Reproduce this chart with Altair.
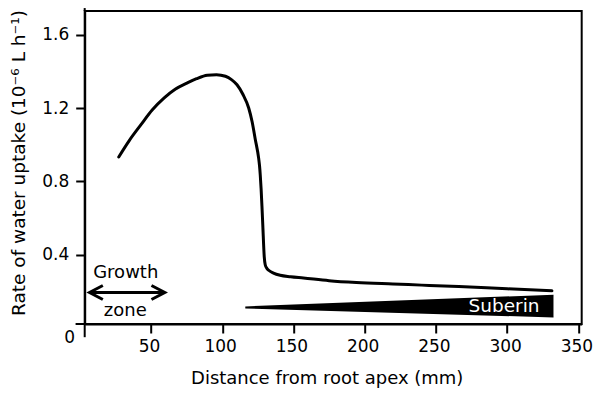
import altair as alt
import pandas as pd

# ---- data ----
dist = [27.4, 35, 43.0, 51, 59.3, 67, 75.6, 82, 89.5, 96, 102.3, 106.5, 110.4,
        114.5, 118.6, 121, 123.2, 125.6, 126.2, 126.7, 127.3, 127.9, 128.5,
        129.5, 130.2, 131.2, 132.6, 136, 140.7, 148, 157.0, 175, 194.2, 219.8,
        240, 266.0, 300, 331.4]
uptake = [0.933, 1.025, 1.109, 1.19, 1.255, 1.302, 1.337, 1.360, 1.379, 1.382,
          1.373, 1.355, 1.327, 1.275, 1.200, 1.125, 1.03, 0.925, 0.885, 0.836,
          0.76, 0.665, 0.56, 0.39, 0.345, 0.327, 0.315, 0.300, 0.288, 0.280,
          0.273, 0.258, 0.248, 0.240, 0.234, 0.226, 0.214, 0.203]

x_ticks = [50, 100, 150, 200, 250, 300, 350]
y_ticks = [0.4, 0.8, 1.2, 1.6]

suberin_x = [116.2, 332.5]
suberin_top = [0.118, 0.182]
suberin_bottom = [0.107, 0.058]

growth_x = [6.9, 59.7]
growth_y = [0.194, 0.194]

labels_text = ["Growth", "zone"]
labels_x = [32.3, 32.0]
labels_y = [0.2755, 0.0638]

X_DOMAIN = [3.5, 352.3]
Y_DOMAIN = [0.022, 1.729]
FONT = "DejaVu Sans"
W, H = 497, 313


def xenc(field="x"):
    return alt.X(f"{field}:Q",
                 scale=alt.Scale(domain=X_DOMAIN, nice=False, zero=False),
                 axis=alt.Axis(values=x_ticks, format="d", labelOffset=-2,
                               title="Distance from root apex (mm)",
                               titleX=242, titleY=59.5, titleBaseline="alphabetic",
                               titleAlign="center"))


def yenc(field="y"):
    return alt.Y(f"{field}:Q",
                 scale=alt.Scale(domain=Y_DOMAIN, nice=False, zero=False),
                 axis=alt.Axis(values=y_ticks, format=".1f",
                               title="Rate of water uptake (10⁻⁶ L h⁻¹)",
                               titleX=-60, titleY=151.5, titleBaseline="alphabetic",
                               titleAlign="center", titleAngle=270))


curve_df = pd.DataFrame({"x": dist, "y": uptake})
curve = alt.Chart(curve_df).mark_line(
    color="black", strokeWidth=3, interpolate="monotone", strokeCap="round"
).encode(x=xenc(), y=yenc())

sub_df = pd.DataFrame({"x": suberin_x, "y": suberin_top, "y2": suberin_bottom})
suberin = alt.Chart(sub_df).mark_area(color="black").encode(
    x=xenc(), y=yenc(), y2="y2:Q")

arrow_df = pd.DataFrame({"x": growth_x, "y": growth_y})
arrow_line = alt.Chart(arrow_df).mark_line(color="black", strokeWidth=3).encode(
    x=xenc(), y=yenc())

left_head = alt.Chart(pd.DataFrame({"x": [growth_x[0]], "y": [growth_y[0]]})).mark_point(
    shape="M1.9,-1L0,0L1.9,1", size=196, filled=False, color="black",
    strokeWidth=3, opacity=1).encode(x=xenc(), y=yenc())
right_head = alt.Chart(pd.DataFrame({"x": [growth_x[1]], "y": [growth_y[1]]})).mark_point(
    shape="M-1.9,-1L0,0L-1.9,1", size=196, filled=False, color="black",
    strokeWidth=3, opacity=1).encode(x=xenc(), y=yenc())

lab_df = pd.DataFrame({"x": labels_x, "y": labels_y, "t": labels_text})
labels = alt.Chart(lab_df).mark_text(
    font=FONT, fontSize=18, color="black", align="center", baseline="alphabetic"
).encode(x=xenc(), y=yenc(), text="t:N")

sub_lab = alt.Chart(pd.DataFrame({"x": [322.7], "y": [0.0857], "t": ["Suberin"]})).mark_text(
    font=FONT, fontSize=18.5, color="white", align="right", baseline="alphabetic"
).encode(x=xenc(), y=yenc(), text="t:N")

zero_lab = alt.Chart(pd.DataFrame({"x": [0], "y": [0], "t": ["0"]})).mark_text(
    font=FONT, fontSize=17, color="black", align="center", baseline="middle",
    dx=-10, dy=10
).encode(x=xenc(), y=yenc(), text="t:N")

frame_df = pd.DataFrame({
    "x": [3.5, -2.9, 3.5],
    "x2": [3.5, 3.5, 3.5],
    "y": [-0.05, 0.022, 1.729],
    "y2": [0.022, 0.022, 1.745],
})
frame = alt.Chart(frame_df).mark_rule(color="black", strokeWidth=2).encode(
    x=xenc(), x2="x2:Q", y=yenc(), y2="y2:Q")

chart = alt.layer(
    suberin, curve, arrow_line, left_head, right_head, labels, sub_lab, zero_lab, frame
).properties(
    width=W, height=H,
    autosize=alt.AutoSizeParams(type="none"),
    padding={"left": 76.7, "top": 3, "right": 11, "bottom": 64},
).configure_view(
    stroke="black", strokeWidth=2
).configure_axis(
    grid=False, domainColor="black", domainWidth=2, tickColor="black",
    tickWidth=2, tickSize=9, labelFont=FONT, labelFontSize=17,
    labelColor="black", labelPadding=6, titleFont=FONT, titleFontSize=18,
    titleFontWeight="normal", titleColor="black"
).configure_axisY(titleFontSize=18.5, labelPadding=7)

chart.save("out.html", embed_options={"renderer": "svg", "actions": False})
